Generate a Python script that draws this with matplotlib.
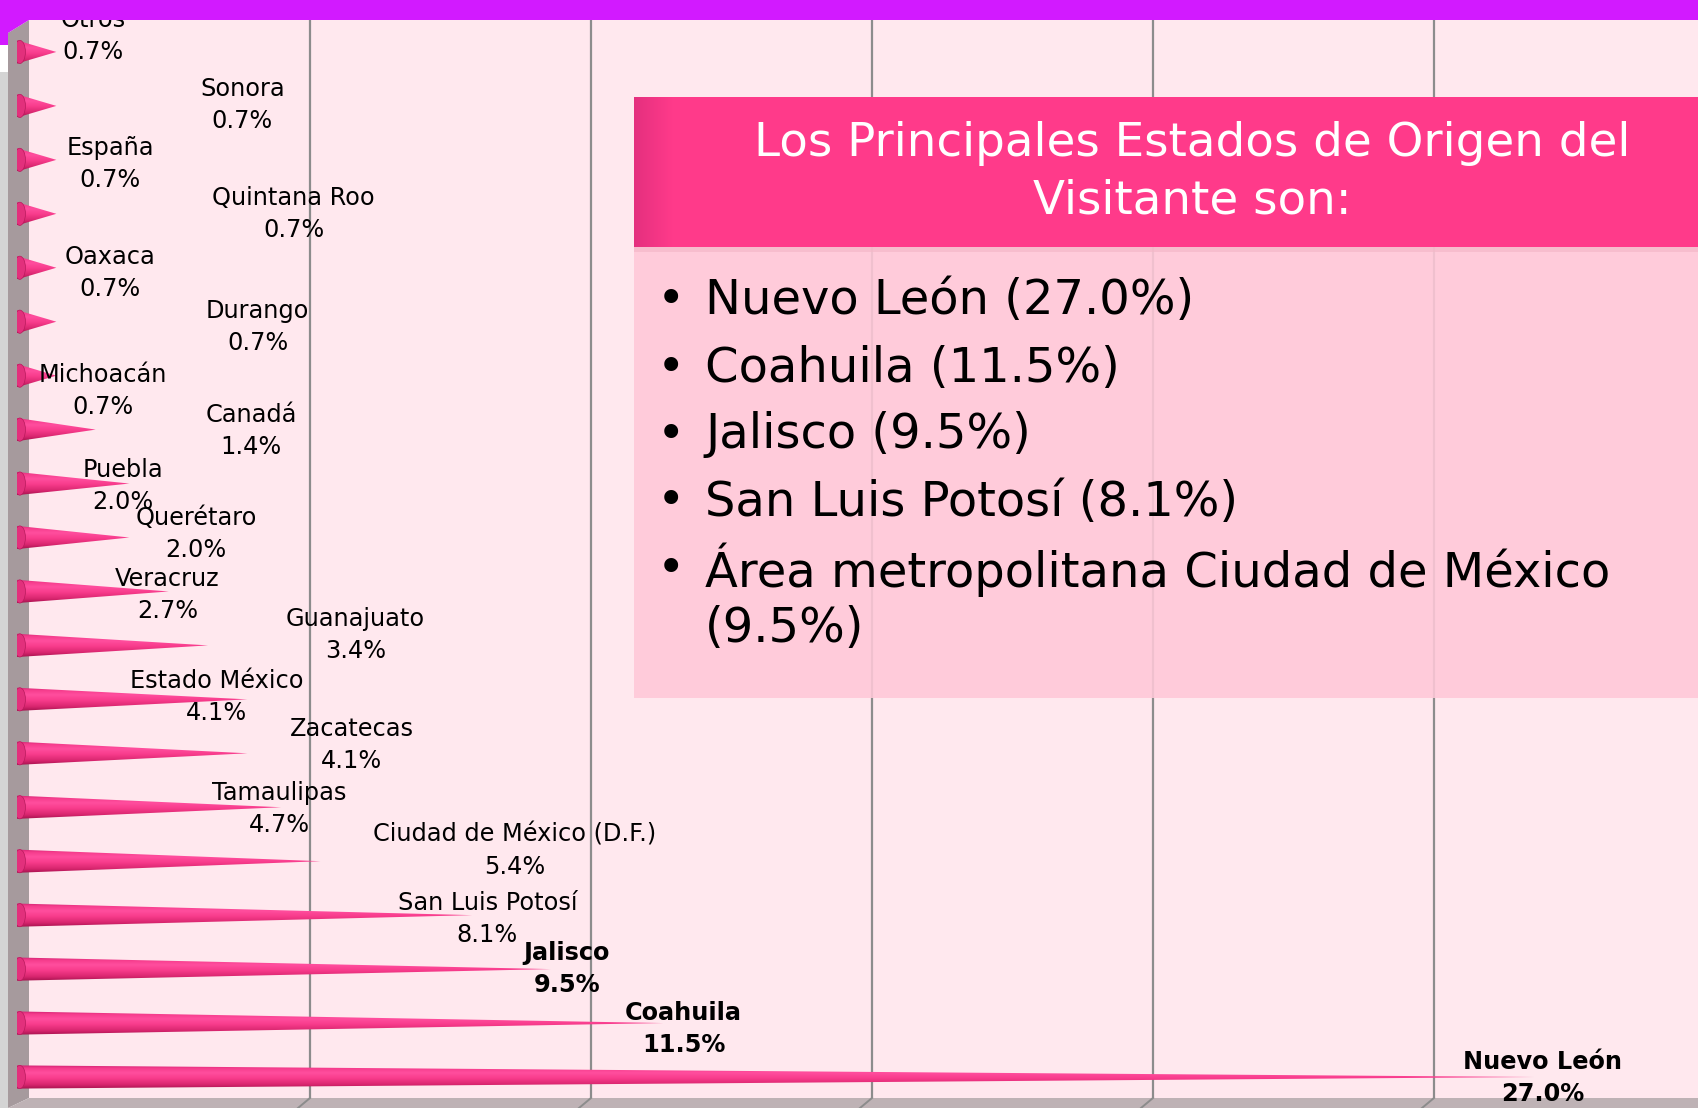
import numpy as np
import matplotlib
matplotlib.use("Agg")
import matplotlib.pyplot as plt
from matplotlib.patches import Polygon, Rectangle, Ellipse
from matplotlib.colors import LinearSegmentedColormap
import matplotlib.transforms as mtransforms

# ---------------- data ----------------
categories = ["Nuevo León", "Coahuila", "Jalisco", "San Luis Potosí",
              "Ciudad de México (D.F.)", "Tamaulipas", "Zacatecas",
              "Estado México", "Guanajuato", "Veracruz", "Querétaro",
              "Puebla", "Canadá", "Michoacán", "Durango", "Oaxaca",
              "Quintana Roo", "España", "Sonora", "Otros"]
values = [27.0, 11.5, 9.5, 8.1, 5.4, 4.7, 4.1, 4.1, 3.4, 2.7, 2.0, 2.0,
          1.4, 0.7, 0.7, 0.7, 0.7, 0.7, 0.7, 0.7]
bold_labels = ["Nuevo León", "Coahuila", "Jalisco"]
grid_ticks = [5, 10, 15, 20, 25]
title_lines = ["Los Principales Estados de Origen del", "Visitante son:"]
bullet_items = ["Nuevo León (27.0%)", "Coahuila (11.5%)", "Jalisco (9.5%)",
                "San Luis Potosí (8.1%)",
                "Área metropolitana Ciudad de México"]
bullet_continuation = "(9.5%)"

# ---------------- layout (label centres: x in %, y offset in rows) -------
label_x = [27.15, 11.86, 9.78, 8.37, 8.85, 4.67, 5.96, 3.55, 6.02, 2.68,
           3.19, 1.88, 4.17, 1.53, 4.28, 1.66, 4.92, 1.66, 4.01, 1.35]
label_dy = [-0.02, -0.11, 0.01, -0.07, 0.19, -0.04, 0.16, 0.05, 0.19, -0.07,
            0.07, -0.05, -0.03, -0.28, -0.09, -0.10, 0.0, -0.08, 0.01, 0.30]

W, H = 1698, 1108
fig = plt.figure(figsize=(W / 100, H / 100), dpi=100)
fig.patch.set_facecolor("#FFFFFF")


def fx(x):
    return x / W


def fy(y):
    return 1 - y / H


PX_PER_PCT = 56.2
AX_L, AX_T, AX_B = 17, 20, 1098
ax = fig.add_axes([fx(AX_L), fy(AX_B), fx(W - AX_L), (AX_B - AX_T) / H])
ax.set_facecolor("none")
for s in ax.spines.values():
    s.set_visible(False)
ax.set_xticks([])
ax.set_yticks([])

# plot background (back wall) and side wall, floor
fig.add_artist(Rectangle((fx(29), fy(AX_B)), fx(W - 29), (AX_B - AX_T) / H,
                         transform=fig.transFigure, facecolor="#FFE8EE",
                         edgecolor="none", zorder=-2))
fig.add_artist(Polygon([[fx(0), fy(72)], [fx(8), fy(72)], [fx(8), fy(1108)],
                        [fx(0), fy(1108)]], closed=True, transform=fig.transFigure,
                       facecolor="#D4D4D4", edgecolor="none", zorder=-2))
fig.add_artist(Polygon([[fx(8), fy(33)], [fx(29), fy(20)], [fx(29), fy(1098)],
                        [fx(8), fy(1108)]], closed=True, transform=fig.transFigure,
                       facecolor="#A69A9D", edgecolor="none", zorder=-1.5))
fig.add_artist(Polygon([[fx(8), fy(1108)], [fx(29), fy(1098)], [fx(W), fy(1098)],
                        [fx(W), fy(1108)]], closed=True, transform=fig.transFigure,
                       facecolor="#BEB2B5", edgecolor="none", zorder=-1.5))

xmax = (W - AX_L) / PX_PER_PCT
row = 53.95
y0 = -(AX_B - 1077) / row
y1 = (1077 - AX_T) / row

# back-wall gridlines (offset for 3D depth)
grid_tr = mtransforms.offset_copy(ax.transData, fig=fig, x=12, y=0, units="dots")
for g in grid_ticks:
    ax.plot([g, g], [y0, y1], color="#8C8C8C", lw=1.6, transform=grid_tr,
            zorder=1, solid_capstyle="butt")
for g in grid_ticks:
    xg = AX_L + g * PX_PER_PCT + 12
    fig.add_artist(plt.Line2D([fx(xg), fx(xg - 12)], [fy(1098), fy(1108)],
                              transform=fig.transFigure, color="#8C8C8C",
                              lw=1.4, zorder=-1))

# cones
cone_cmap = LinearSegmentedColormap.from_list(
    "cone", [(0.0, "#A8124F"), (0.18, "#D8266F"), (0.45, "#F83C8C"),
             (0.68, "#FF4E9E"), (0.88, "#F53C8C"), (1.0, "#D02272")])
grad = cone_cmap(np.linspace(0, 1, 64))[:, None, :]
half = 0.215
for i, v in enumerate(values):
    yc = i
    tri = Polygon([[0, yc - half], [v, yc], [0, yc + half]], closed=True,
                  facecolor="none", edgecolor="none")
    ax.add_patch(tri)
    im = ax.imshow(grad, extent=[0, v, yc - half, yc + half], origin="lower",
                   aspect="auto", interpolation="bilinear", zorder=3)
    im.set_clip_path(tri)
    ax.add_patch(Ellipse((0.05, yc), 0.2, 2 * half, facecolor="#E2307C",
                         edgecolor="#B81A5C", lw=0.5, zorder=3.5))

ax.set_xlim(0, xmax)
ax.set_ylim(y0, y1)

# labels
for i, (c, v) in enumerate(zip(categories, values)):
    bold = c in bold_labels
    ax.text(label_x[i], i + label_dy[i], f"{c}\n{v:.1f}%", ha="center",
            va="center", fontsize=17.3, linespacing=1.42,
            fontweight="bold" if bold else "normal", color="black",
            clip_on=False, zorder=6, family="DejaVu Sans")

# top magenta band
fig.add_artist(Polygon([[fx(0), fy(0)], [fx(W), fy(0)], [fx(W), fy(20)],
                        [fx(29), fy(20)], [fx(8), fy(33)], [fx(8), fy(45)],
                        [fx(0), fy(45)]], closed=True, transform=fig.transFigure,
                       facecolor="#D21AFF", edgecolor="none", zorder=10))

# text box
BX0, HY0, HY1, BY1 = 634, 97, 247, 698
fig.add_artist(Rectangle((fx(BX0), fy(BY1)), fx(W - BX0), (BY1 - HY1) / H,
                         transform=fig.transFigure, facecolor="#FFC8D8",
                         edgecolor="none", alpha=0.88, zorder=8))
fig.add_artist(Rectangle((fx(BX0), fy(HY1)), fx(W - BX0), (HY1 - HY0) / H,
                         transform=fig.transFigure, facecolor="#FF3A8A",
                         edgecolor="none", zorder=8.1))
shade = LinearSegmentedColormap.from_list("sh", ["#E42F7E", "#FF3A8A"])
for k in range(40):
    fig.add_artist(Rectangle((fx(BX0 + k), fy(HY1)), fx(1.05), (HY1 - HY0) / H,
                             transform=fig.transFigure,
                             facecolor=shade(k / 39), edgecolor="none",
                             zorder=8.2))
fig.add_artist(Rectangle((fx(BX0), fy(HY1 + 5)), fx(W - BX0), 5 / H,
                         transform=fig.transFigure, facecolor="#F4B8C8",
                         edgecolor="none", alpha=0.7, zorder=8.15))

renderer = fig.canvas.get_renderer()

t1 = fig.text(fx(1192), fy(144), title_lines[0], ha="center", va="center",
              color="white", fontsize=30, zorder=9, family="DejaVu Sans")
t2 = fig.text(fx(1192), fy(201), title_lines[1], ha="center", va="center",
              color="white", fontsize=30, zorder=9, family="DejaVu Sans")
bb = t1.get_window_extent(renderer)
tfs = 30 * 875 / bb.width
t1.set_fontsize(tfs)
t2.set_fontsize(tfs)

body_y = [300, 368, 435, 502, 570]
probe = fig.text(0, 0, bullet_items[0], fontsize=30, family="DejaVu Sans")
bfs = 30 * 488 / probe.get_window_extent(renderer).width
probe.remove()
for yy, item in zip(body_y, bullet_items):
    fig.text(fx(671), fy(yy), "•", ha="center", va="center", fontsize=bfs,
             color="black", zorder=9, family="DejaVu Sans")
    fig.text(fx(705), fy(yy), item, ha="left", va="center", fontsize=bfs,
             color="black", zorder=9, family="DejaVu Sans")
fig.text(fx(705), fy(628), bullet_continuation, ha="left", va="center",
         fontsize=bfs, color="black", zorder=9, family="DejaVu Sans")

fig.savefig("out.png", dpi=100, facecolor=fig.get_facecolor())
